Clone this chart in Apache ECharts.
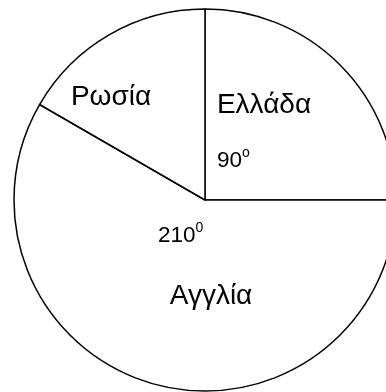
<!DOCTYPE html>
<html>
<head>
<meta charset="utf-8">
<script src="https://cdn.jsdelivr.net/npm/echarts@6/dist/echarts.min.js"></script>
<style>
html,body{margin:0;padding:0;background:#fff;}
#c{width:386px;height:392px;}
</style>
</head>
<body>
<div id="c"></div>
<script>
const categories = ['Ελλάδα', 'Αγγλία', 'Ρωσία'];
const degrees = [90, 210, 60];
const degreeText = ['90', '210', null];
const degreeSup = ['o', '0', null];

// label layout (positions only)
const namePos = [[264, 105], [211, 296], [111, 97]];
const degPos = [[217, 159], [158, 234], null];

const chart = echarts.init(document.getElementById('c'), null, {renderer: 'canvas'});
const FONT = '"Liberation Sans", Arial, sans-serif';

const graphics = [];
categories.forEach((name, i) => {
  graphics.push({
    type: 'text', x: namePos[i][0], y: namePos[i][1], silent: true, z: 100,
    style: {text: name, font: '28px ' + FONT, fill: '#000', textAlign: 'center', textVerticalAlign: 'middle'}
  });
  if (degreeText[i] !== null) {
    graphics.push({
      type: 'text', x: degPos[i][0], y: degPos[i][1], silent: true, z: 100,
      style: {
        text: '{n|' + degreeText[i] + '}{s|' + degreeSup[i] + '}',
        textAlign: 'left', textVerticalAlign: 'middle',
        rich: {
          n: {fontSize: 22.5, fontFamily: FONT, fill: '#000', color: '#000', lineHeight: 26, verticalAlign: 'bottom'},
          s: {fontSize: 14, fontFamily: FONT, fill: '#000', color: '#000', lineHeight: 26, verticalAlign: 'top'}
        }
      }
    });
  }
});

chart.setOption({
  animation: false,
  backgroundColor: '#fff',
  series: [{
    type: 'pie',
    radius: 191,
    center: [205, 200],
    startAngle: 90,
    clockwise: true,
    silent: true,
    z: 1,
    label: {show: false},
    labelLine: {show: false},
    emphasis: {disabled: true},
    itemStyle: {color: '#fff', borderColor: '#000', borderWidth: 1.5},
    data: categories.map((n, i) => ({name: n, value: degrees[i]}))
  }],
  graphic: {elements: graphics}
});
</script>
</body>
</html>
